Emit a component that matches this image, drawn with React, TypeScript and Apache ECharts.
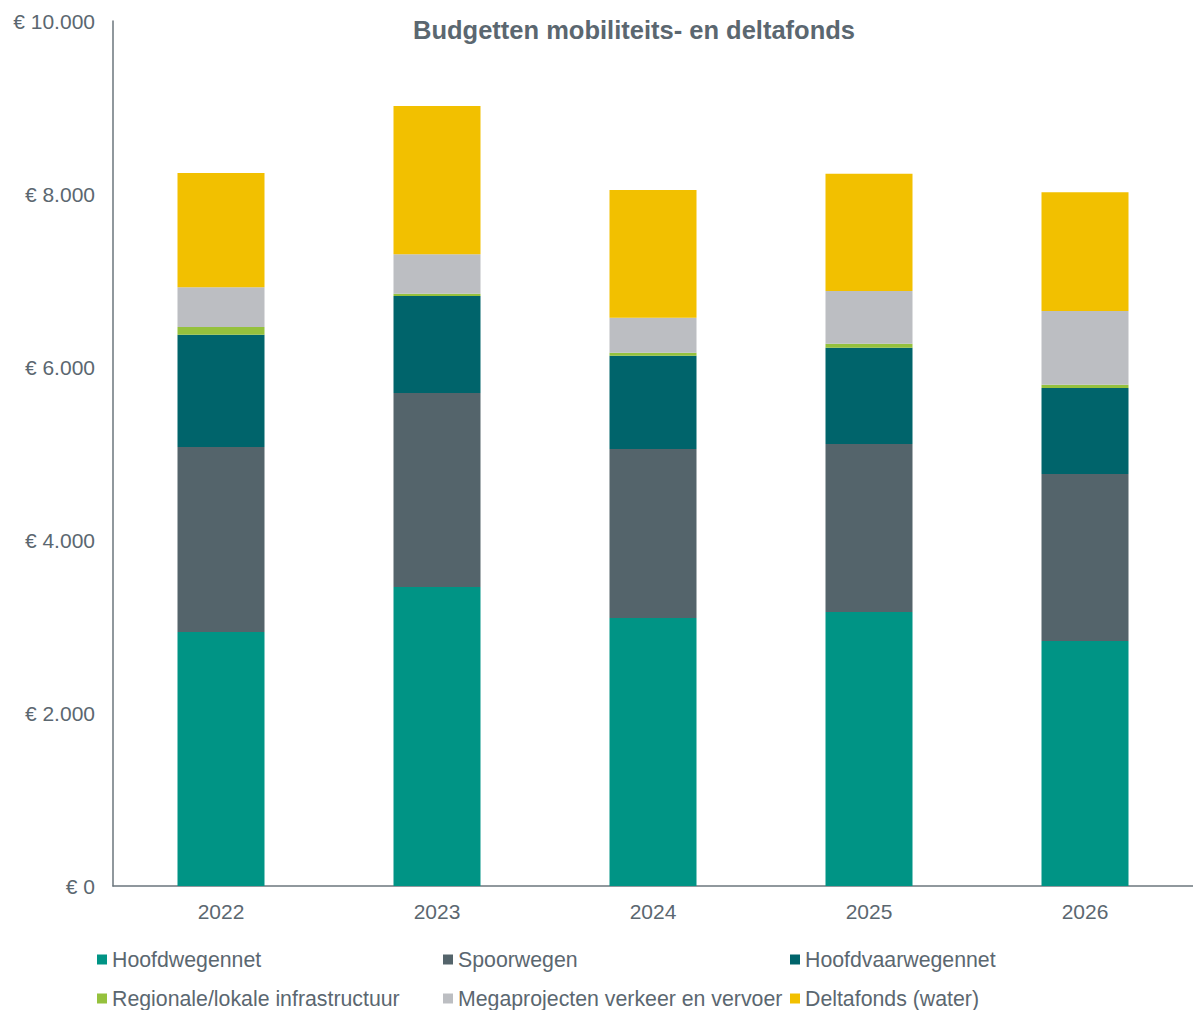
import React, { useEffect, useRef } from "react";
import * as echarts from "echarts";

const years = ["2022", "2023", "2024", "2025", "2026"];
const hoofdwegennet = [2936, 3457, 3098, 3168, 2832];
const spoorwegen = [2139, 2242, 1954, 1942, 1931];
const hoofdvaarwegennet = [1299, 1122, 1079, 1113, 994];
const regionale = [89, 27, 35, 46, 39];
const megaprojecten = [459, 455, 402, 609, 851];
const deltafonds = [1321, 1714, 1479, 1356, 1373];

const seriesNames = [
  "Hoofdwegennet",
  "Spoorwegen",
  "Hoofdvaarwegennet",
  "Regionale/lokale infrastructuur",
  "Megaprojecten verkeer en vervoer",
  "Deltafonds (water)",
];
const seriesData = [hoofdwegennet, spoorwegen, hoofdvaarwegennet, regionale, megaprojecten, deltafonds];
const colors = ["#009485", "#54646b", "#00646b", "#95c13d", "#bcbec2", "#f2c000"];

const textColor = "#5b6770";
const font = "'Liberation Sans', Arial, sans-serif";

function fmt(v: number): string {
  return "€ " + String(v).replace(/\B(?=(\d{3})+(?!\d))/g, ".");
}

export default function App() {
  const ref = useRef<HTMLDivElement>(null);
  useEffect(() => {
    if (!ref.current) return;
    const chart = echarts.init(ref.current, undefined, { renderer: "svg" });
    const legendPos = [
      { left: 97, top: 949 },
      { left: 443, top: 949 },
      { left: 790, top: 949 },
      { left: 97, top: 988 },
      { left: 443, top: 988 },
      { left: 790, top: 988 },
    ];
    chart.setOption({
      animation: false,
      color: colors,
      textStyle: { fontFamily: font, color: textColor },
      title: {
        text: "Budgetten mobiliteits- en deltafonds",
        left: 408,
        top: 12,
        textStyle: { fontFamily: font, fontSize: 25.5, fontWeight: "bold", color: textColor },
      },
      legend: seriesNames.map((n, i) => ({
        data: [n],
        left: legendPos[i].left,
        top: legendPos[i].top,
        padding: 0,
        icon: "rect",
        itemWidth: 10,
        itemHeight: 10,
        selectedMode: false,
        textStyle: { fontFamily: font, fontSize: 21.3, color: textColor, padding: 0 },
      })),
      grid: { left: 113, right: 0, top: 21, bottom: 124, containLabel: false },
      xAxis: {
        type: "category",
        data: years,
        axisLine: { show: true, lineStyle: { color: "#6b767d", width: 1.5 } },
        axisTick: { show: false },
        axisLabel: { fontFamily: font, fontSize: 21, color: textColor, margin: 15 },
      },
      yAxis: {
        type: "value",
        min: 0,
        max: 10000,
        interval: 2000,
        axisLine: { show: true, lineStyle: { color: "#6b767d", width: 1.5 } },
        axisTick: { show: false },
        splitLine: { show: false },
        axisLabel: { fontFamily: font, fontSize: 21, color: textColor, margin: 18, formatter: (v: number) => fmt(v) },
      },
      series: seriesNames.map((n, i) => ({
        name: n,
        type: "bar",
        stack: "total",
        barWidth: 87,
        data: seriesData[i],
        itemStyle: { color: colors[i] },
      })),
    });
    return () => chart.dispose();
  }, []);
  return (
    <div
      ref={ref}
      style={{ position: "fixed", left: 0, top: 0, width: 1193, height: 1010, background: "#fff" }}
    />
  );
}
